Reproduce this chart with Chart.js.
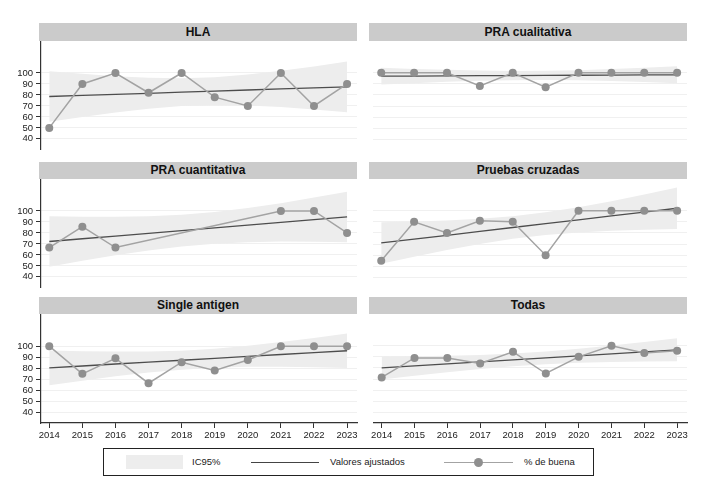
<!DOCTYPE html>
<html>
<head>
<meta charset="utf-8">
<script src="https://cdn.jsdelivr.net/npm/chart.js@4.4.1/dist/chart.umd.min.js"></script>
<style>
body { margin: 0; background: #fff; font-family: "Liberation Sans", Arial, sans-serif; }
#wrap { position: relative; width: 704px; height: 488px; overflow: hidden; }
canvas { position: absolute; }
.title { position: absolute; background: #cbcbcb; color: #111; font-weight: bold; font-size: 12px; text-align: center; }
#legend { position: absolute; left: 103px; top: 448px; width: 489px; height: 26px; border: 1px solid #222; font-size: 9.5px; color: #222; }
#legend span, #legend div { position: absolute; }
#legend span { top: 7px; }
</style>
</head>
<body>
<div id="wrap">
  <div id="legend">
    <div style="left:22px;top:6px;width:57px;height:14px;background:#ededed"></div>
    <span style="left:88px">IC95%</span>
    <div style="left:147px;top:13px;width:68px;height:1px;background:#444"></div>
    <span style="left:226px">Valores ajustados</span>
    <div style="left:340px;top:13px;width:69px;height:1px;background:#a3a3a3"></div>
    <div style="left:370px;top:9px;width:9px;height:9px;border-radius:50%;background:#8f8f8f"></div>
    <span style="left:420px">% de buena</span>
  </div>
</div>
<script>
'use strict'

const years = [2014, 2015, 2016, 2017, 2018, 2019, 2020, 2021, 2022, 2023]
const yTicks = [40, 50, 60, 70, 80, 90, 100]

//HLA
let hlaPct = [50, 90, 100, 82, 100, 78, 70, 100, 70, 90]
let hlaFit = [78.6, 79.6, 80.5, 81.5, 82.5, 83.5, 84.5, 85.5, 86.4, 87.4]
let hlaLo = [55.5, 60.0, 64.0, 67.4, 69.9, 70.9, 70.4, 69.0, 66.8, 64.3]
let hlaHi = [101.7, 99.2, 97.0, 95.6, 95.1, 96.1, 98.6, 102.0, 106.0, 110.5]

//PRA cualitativa
let cualPct = [100, 100, 100, 88, 100, 87, 100, 100, 100, 100]
let cualFit = [96.9, 97.0, 97.2, 97.3, 97.4, 97.6, 97.7, 97.9, 98.0, 98.1]
let cualLo = [89.3, 90.6, 91.8, 92.7, 93.3, 93.5, 93.1, 92.5, 91.6, 90.5]
let cualHi = [104.5, 103.4, 102.6, 101.9, 101.5, 101.7, 102.3, 103.3, 104.4, 105.7]

//PRA cuantitativa (sin datos 2017-2020)
let cuanPct = [66.7, 85.7, 66.7, null, null, null, null, 100, 100, 80]
let cuanFit = [72.2, 74.7, 77.2, 79.7, 82.1, 84.6, 87.1, 89.6, 92.1, 94.6]
let cuanLo = [49.2, 54.6, 59.7, 64.1, 67.6, 70.1, 71.5, 72.1, 72.0, 71.6]
let cuanHi = [95.2, 94.8, 94.7, 95.3, 96.6, 99.1, 102.7, 107.1, 112.2, 117.6]

//Pruebas cruzadas
let cruzPct = [55, 90, 80, 91, 90, 60, 100, 100, 100, 100]
let cruzFit = [71.0, 74.5, 77.9, 81.4, 84.9, 88.3, 91.8, 95.3, 98.7, 102.2]
let cruzLo = [52.4, 58.7, 64.6, 70.1, 74.7, 78.1, 80.5, 82.0, 82.9, 83.6]
let cruzHi = [89.6, 90.3, 91.2, 92.7, 95.1, 98.5, 103.1, 108.6, 114.5, 120.8]

//Single antigen
let singPct = [100, 75, 89, 66.5, 85.5, 78, 87.5, 100, 100, 100]
let singFit = [80.4, 82.1, 83.9, 85.6, 87.3, 89.0, 90.8, 92.5, 94.2, 95.9]
let singLo = [64.7, 68.8, 72.7, 76.1, 78.7, 80.4, 81.3, 81.3, 80.9, 80.2]
let singHi = [96.1, 95.4, 95.1, 95.1, 95.9, 97.6, 100.3, 103.7, 107.5, 111.6]

//Todas
let todPct = [71.5, 89, 89, 84, 94.5, 75, 90, 100, 93.5, 95.5]
let todFit = [80.0, 81.8, 83.6, 85.4, 87.2, 89.1, 90.9, 92.7, 94.5, 96.3]
let todLo = [69.7, 73.0, 76.2, 79.1, 81.5, 83.4, 84.6, 85.3, 85.7, 86.0]
let todHi = [90.3, 90.6, 91.0, 91.7, 92.9, 94.8, 97.2, 100.1, 103.3, 106.6]

let panels = [
    {title: 'HLA', pct: hlaPct, fit: hlaFit, lo: hlaLo, hi: hlaHi},
    {title: 'PRA cualitativa', pct: cualPct, fit: cualFit, lo: cualLo, hi: cualHi},
    {title: 'PRA cuantitativa', pct: cuanPct, fit: cuanFit, lo: cuanLo, hi: cuanHi},
    {title: 'Pruebas cruzadas', pct: cruzPct, fit: cruzFit, lo: cruzLo, hi: cruzHi},
    {title: 'Single antigen', pct: singPct, fit: singFit, lo: singLo, hi: singHi},
    {title: 'Todas', pct: todPct, fit: todFit, lo: todLo, hi: todHi}
]

const font = {family: '"Liberation Sans", Arial, sans-serif', size: 9.5}
let wrap = document.getElementById('wrap')

//plot area tops per row, title bars sit right above
let plotTops = [41, 179, 314]
let titleTops = [23, 162, 297]
let plotH = 109

function pts(vals){
    return years.map((yr, i) => ({x: yr, y: vals[i]}))
}

function makePanel(p, idx){
    let col = idx % 2
    let row = Math.floor(idx / 2)
    let bottomRow = row === 2

    let title = document.createElement('div')
    title.className = 'title'
    title.textContent = p.title
    let tLeft = col === 0 ? 39 : 369
    let tH = plotTops[row] - titleTops[row]
    title.style.cssText = 'left:' + tLeft + 'px;top:' + titleTops[row] + 'px;width:318px;height:' + tH + 'px;line-height:' + tH + 'px'
    wrap.appendChild(title)

    let cv = document.createElement('canvas')
    let w = col === 0 ? 361 : 322
    let h = bottomRow ? 8 + plotH + 22 : 8 + plotH + 8
    cv.width = w
    cv.height = h
    cv.style.left = (col === 0 ? 0 : 369) + 'px'
    cv.style.top = (plotTops[row] - 8) + 'px'
    wrap.appendChild(cv)

    new Chart(cv.getContext('2d'), {
        type: 'line',
        data: {
            datasets: [{
                label: '% de buena',
                data: pts(p.pct),
                borderColor: '#a3a3a3',
                borderWidth: 1.5,
                pointRadius: 4,
                pointBorderWidth: 0,
                pointBackgroundColor: '#8f8f8f',
                spanGaps: true,
                order: 0
            }, {
                label: 'Valores ajustados',
                data: pts(p.fit),
                borderColor: '#4d4d4d',
                borderWidth: 1.3,
                pointRadius: 0,
                order: 1
            }, {
                label: 'IC95%',
                data: pts(p.hi),
                borderWidth: 0,
                pointRadius: 0,
                backgroundColor: '#ededed',
                fill: '+1',
                order: 2
            }, {
                label: 'lo',
                data: pts(p.lo),
                borderWidth: 0,
                pointRadius: 0,
                fill: false,
                order: 3
            }]
        },
        options: {
            responsive: false,
            animation: false,
            layout: {padding: {top: 8, bottom: bottomRow ? 0 : 8, left: 0, right: 4}},
            plugins: {legend: {display: false}, tooltip: {enabled: false}},
            scales: {
                x: {
                    type: 'linear',
                    min: 2013.75,
                    max: 2023.3,
                    display: bottomRow,
                    afterBuildTicks: a => { a.ticks = years.map(v => ({value: v})) },
                    afterFit: s => { s.height = bottomRow ? 22 : 0 },
                    grid: {drawOnChartArea: false, drawTicks: true, tickLength: 5, tickColor: '#333'},
                    border: {display: true, color: '#333', width: 1.2},
                    ticks: {callback: v => String(v), font: font, color: '#222', padding: 2, maxRotation: 0, autoSkip: false}
                },
                y: {
                    type: 'linear',
                    min: 30.5,
                    max: 128.5,
                    afterBuildTicks: a => { a.ticks = yTicks.map(v => ({value: v})) },
                    afterFit: s => { s.width = col === 0 ? 41 : 0 },
                    grid: {color: '#f0f0f0', lineWidth: 1, drawTicks: col === 0, tickLength: 5, tickColor: '#333'},
                    border: {display: col === 0, color: '#333', width: 1.2},
                    ticks: {display: col === 0, font: font, color: '#222', padding: 3, autoSkip: false}
                }
            }
        }
    })
}

panels.forEach(makePanel)
</script>
</body>
</html>
